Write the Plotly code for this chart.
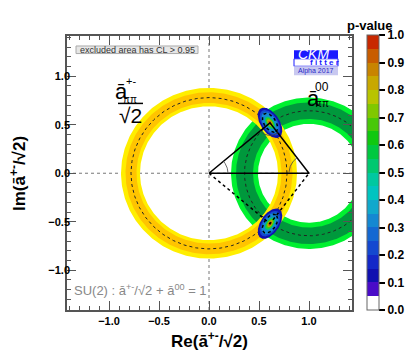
import numpy as np
import plotly.graph_objects as go

# p-value palette (20 steps of 0.05, bottom to top)
palette = ['#ffffff', '#4a0cc8', '#1010b0', '#1428c8', '#1448d0', '#1468d2',
           '#1488d2', '#10a8cc', '#00c4c0', '#00c8a0', '#00c870', '#00c840',
           '#10c810', '#48c808', '#80c800', '#b8c400', '#c8a800', '#c88400',
           '#c85c00', '#c82800']

# constraint rings: centre, bands and central value
ring_pm_centre = [0.0, 0.0]
ring_pm_wide = [0.69, 0.88]
ring_pm_narrow = [0.725, 0.835]
ring_pm_mid = 0.78
ring_00_centre = [1.0, 0.0]
ring_00_wide = [0.51, 0.78]
ring_00_narrow = [0.56, 0.73]
ring_00_mid = 0.645

# the two SU(2) solutions
sol_x = [0.61, 0.61]
sol_y = [0.52, -0.52]
sol_angle = [-58, 58]
sol_axes = [0.175, 0.095]
blob_scale = [1.0, 0.84, 0.7, 0.42, 0.32, 0.23, 0.15, 0.08]
blob_pval = [0.12, 0.22, 0.32, 0.5, 0.65, 0.8, 0.9, 0.97]
blob_dotted = 0.62

# triangle vertices
tri_x = [0.0, 0.61, 1.0]
tri_y = [0.0, 0.52, 0.0]

t = np.linspace(0, 2 * np.pi, 361)


def ring(c, r0, r1):
    xs = np.concatenate([c[0] + r1 * np.cos(t), c[0] + r0 * np.cos(t[::-1])])
    ys = np.concatenate([c[1] + r1 * np.sin(t), c[1] + r0 * np.sin(t[::-1])])
    return xs, ys


def ellipse(cx, cy, a, b, ang):
    th = np.radians(ang)
    ex, ey = a * np.cos(t), b * np.sin(t)
    return cx + ex * np.cos(th) - ey * np.sin(th), cy + ex * np.sin(th) + ey * np.cos(th)


def pcol(p):
    return palette[min(int(p * 20), 19)]


fig = go.Figure()

# green ring (a00)
for band, col in [(ring_00_wide, '#00f030'), (ring_00_narrow, '#00983c')]:
    xs, ys = ring(ring_00_centre, *band)
    fig.add_trace(go.Scatter(x=xs, y=ys, fill='toself', fillcolor=col, mode='lines',
                             line=dict(width=0), hoverinfo='skip', showlegend=False))
# yellow ring (a+-)
for band, col in [(ring_pm_wide, '#ffee00'), (ring_pm_narrow, '#ffc400')]:
    xs, ys = ring(ring_pm_centre, *band)
    fig.add_trace(go.Scatter(x=xs, y=ys, fill='toself', fillcolor=col, mode='lines',
                             line=dict(width=0), hoverinfo='skip', showlegend=False))
for c, r in [(ring_pm_centre, ring_pm_mid), (ring_00_centre, ring_00_mid)]:
    fig.add_trace(go.Scatter(x=c[0] + r * np.cos(t), y=c[1] + r * np.sin(t), mode='lines',
                             line=dict(color='#222', width=1, dash='dot'),
                             hoverinfo='skip', showlegend=False))

# solution blobs
for cx, cy, ang in zip(sol_x, sol_y, sol_angle):
    for s, p in zip(blob_scale, blob_pval):
        xs, ys = ellipse(cx, cy, sol_axes[0] * s, sol_axes[1] * s, ang)
        fig.add_trace(go.Scatter(x=xs, y=ys, fill='toself', fillcolor=pcol(p), mode='lines',
                                 line=dict(width=0), hoverinfo='skip', showlegend=False))
    xs, ys = ellipse(cx, cy, sol_axes[0] * blob_dotted, sol_axes[1] * blob_dotted, ang)
    fig.add_trace(go.Scatter(x=xs, y=ys, mode='lines', line=dict(color='black', width=1.5, dash='dot'),
                             hoverinfo='skip', showlegend=False))

# triangles
fig.add_trace(go.Scatter(x=tri_x + [tri_x[0]], y=tri_y + [tri_y[0]], mode='lines',
                         line=dict(color='black', width=1.5), hoverinfo='skip', showlegend=False))
fig.add_trace(go.Scatter(x=tri_x, y=[tri_y[0], -tri_y[1], tri_y[2]], mode='lines',
                         line=dict(color='black', width=1.5, dash='dot'), hoverinfo='skip', showlegend=False))

# angle arcs
apex_ang = np.degrees(np.arctan2(tri_y[1], tri_x[1]))
right_ang = np.degrees(np.arctan2(tri_y[1], tri_x[1] - tri_x[2]))
for (vx, vy), r, a0, a1 in [((tri_x[0], tri_y[0]), 0.19, 0, apex_ang),
                            ((tri_x[2], tri_y[2]), 0.2, right_ang, 180),
                            ((tri_x[1], tri_y[1]), 0.13, 180 + apex_ang, 360 + right_ang - 180)]:
    aa = np.radians(np.linspace(a0, a1, 40))
    fig.add_trace(go.Scatter(x=vx + r * np.cos(aa), y=vy + r * np.sin(aa), mode='lines',
                             line=dict(color='#444', width=0.8), hoverinfo='skip', showlegend=False))

# colour bar
scale = []
for i, c in enumerate(palette):
    scale += [[i / 20, c], [(i + 1) / 20, c]]
fig.add_trace(go.Scatter(x=[None], y=[None], mode='markers', showlegend=False, hoverinfo='skip',
                         marker=dict(color=[0.5], cmin=0, cmax=1, colorscale=scale, showscale=True,
                                     colorbar=dict(x=1.0526, xanchor='left', y=0, yanchor='bottom',
                                                   len=275, lenmode='pixels', thickness=12,
                                                   xpad=0, ypad=0, outlinecolor='#666', outlinewidth=1,
                                                   ticks='outside', ticklen=6, tickwidth=2, tickcolor='black',
                                                   tickvals=[i / 10 for i in range(11)],
                                                   ticktext=['%.1f' % (i / 10) for i in range(11)],
                                                   tickfont=dict(size=12, weight='bold', color='black')))))

ax = dict(showgrid=False, zeroline=False, showline=True, linecolor='#555', linewidth=1.5,
          mirror='ticks', ticks='inside', ticklen=9, tickcolor='#555',
          tickvals=[-1, -0.5, 0, 0.5, 1], ticktext=['−1.0', '−0.5', '0.0', '0.5', '1.0'],
          tickfont=dict(size=11, weight='bold', color='black'),
          minor=dict(ticks='inside', ticklen=4, dtick=0.1, tick0=0, tickcolor='#555', showgrid=False))

annotations = [
    dict(x=-0.88, y=0.845, text='ā', font=dict(size=22)),
    dict(x=-0.785, y=0.955, text='+-', font=dict(size=11)),
    dict(x=-0.79, y=0.765, text='ππ', font=dict(size=10)),
    dict(x=-0.79, y=0.60, text='√2', font=dict(size=21)),
    dict(x=1.04, y=0.775, text='ā', font=dict(size=22)),
    dict(x=1.13, y=0.885, text='00', font=dict(size=12)),
    dict(x=1.13, y=0.715, text='ππ', font=dict(size=10)),
    dict(x=-0.72, y=1.273, text='excluded area has CL > 0.95', font=dict(size=9, color='#333')),
    dict(x=-1.375, y=-1.2, xanchor='left', text='SU(2) : ā<sup>+-</sup>/√2 + ā<sup>00</sup> = 1',
         font=dict(size=13, color='#888')),
    dict(x=1.04, y=1.225, text='<i>CKM</i>', font=dict(size=14, color='white')),
    dict(x=1.15, y=1.142, text='f i t t e r', font=dict(size=8, color='#1a1aff', weight='bold')),
    dict(x=1.07, y=1.057, text='Alpha 2017', font=dict(size=7, color='#2a2ac8')),
]
for a in annotations:
    a.update(xref='x', yref='y', showarrow=False)
    a['font'].setdefault('color', 'black')
annotations += [
    dict(x=0.5, y=-0.11, text='<b>Re(ā<sup>+-</sup>/√2)</b>', font=dict(size=17, color='black')),
    dict(x=-0.172, y=0.5, textangle=-90,
         text='<b>Im(ā<sup>+-</sup>/√2)</b>', font=dict(size=17, color='black')),
    dict(x=1.063, y=1.04, text='<b>p-value</b>', font=dict(size=13, color='black')),
]
for a in annotations[-3:]:
    a.update(xref='paper', yref='paper', showarrow=False, xanchor='center', yanchor='middle')

shapes = [
    dict(type='line', xref='x domain', x0=0, x1=1, y0=0, y1=0, line=dict(color='#777', width=1, dash='dot')),
    dict(type='line', yref='y domain', y0=0, y1=1, x0=0, x1=0, line=dict(color='#777', width=1, dash='dot')),
    dict(type='line', x0=-0.91, x1=-0.66, y0=0.72, y1=0.72, line=dict(color='black', width=1.5)),
    dict(type='rect', x0=-1.33, x1=-0.11, y0=1.234, y1=1.312, fillcolor='#e6e6e6',
         line=dict(color='#aaa', width=1)),
    dict(type='rect', x0=0.85, x1=1.29, y0=1.18, y1=1.268, fillcolor='#1a1aff', line=dict(width=0)),
    dict(type='rect', x0=0.85, x1=1.29, y0=1.103, y1=1.18, fillcolor='white',
         line=dict(color='#1a1aff', width=1)),
    dict(type='rect', x0=0.85, x1=1.29, y0=1.01, y1=1.103, fillcolor='#c8c8f0', line=dict(width=0)),
]
for s in shapes:
    s.setdefault('xref', 'x')
    s.setdefault('yref', 'y')
    s['layer'] = 'below' if s['type'] == 'line' and s['line'].get('dash') else 'above'

fig.update_layout(width=414, height=361, margin=dict(l=67, r=62, t=36, b=51, autoexpand=False),
                  plot_bgcolor='white', paper_bgcolor='white',
                  font=dict(family='Liberation Sans, Arial, sans-serif'),
                  xaxis=dict(range=[-1.42, 1.43], **ax),
                  yaxis=dict(range=[-1.41, 1.415], ticklabelstandoff=-7, **ax),
                  annotations=annotations, shapes=shapes)

fig.write_html('out.html', config={'displayModeBar': False},
               post_script="document.body.style.margin='0';")
